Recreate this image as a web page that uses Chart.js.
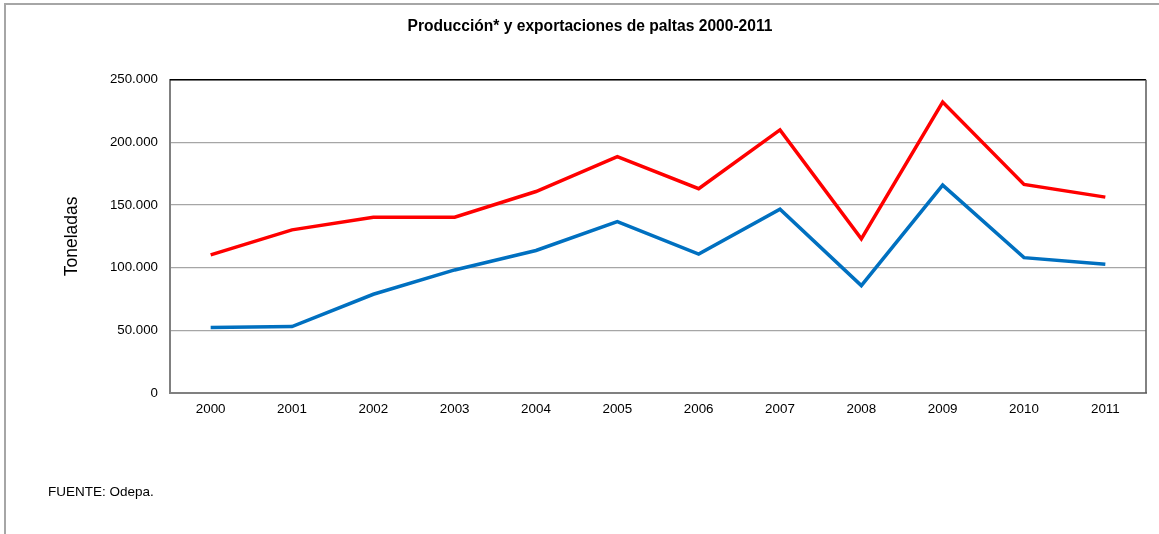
<!DOCTYPE html>
<html>
<head>
<meta charset="utf-8">
<script src="https://cdn.jsdelivr.net/npm/chart.js@4/dist/chart.umd.min.js"></script>
<style>
  html, body { margin: 0; padding: 0; background: #fff; }
  #wrap { position: relative; width: 1159px; height: 534px; }
  canvas { display: block; }
</style>
</head>
<body>
<div id="wrap"><canvas id="c" width="1159" height="534"></canvas></div>
<script>
const years = ['2000','2001','2002','2003','2004','2005','2006','2007','2008','2009','2010','2011'];
const produccion = [110200, 130200, 140300, 140300, 160800, 188700, 163000, 210000, 123000, 232200, 166400, 156300];
const exportaciones = [52200, 53000, 78800, 98200, 113700, 136800, 110800, 146700, 85700, 165900, 108000, 102800];
const yTicks = [0, 50000, 100000, 150000, 200000, 250000];
const titleText = 'Producción* y exportaciones de paltas 2000-2011';
const yTitle = 'Toneladas';
const footnote = 'FUENTE: Odepa.';

const FONT = '"Liberation Sans", Arial, sans-serif';

function fmt(v) {
  return v === 0 ? '0' : v.toLocaleString('de-DE', {minimumFractionDigits: 0});
}

const decor = {
  id: 'decor',
  beforeDraw(chart) {
    const ctx = chart.ctx;
    ctx.save();
    ctx.strokeStyle = '#a6a6a6';
    ctx.lineWidth = 2;
    ctx.beginPath();
    ctx.moveTo(5, 534);
    ctx.lineTo(5, 4);
    ctx.lineTo(1159, 4);
    ctx.stroke();
    ctx.restore();
  },
  afterDraw(chart) {
    const ctx = chart.ctx;
    const a = chart.chartArea;
    ctx.save();
    ctx.strokeStyle = '#000';
    ctx.lineWidth = 1.5;
    ctx.beginPath();
    ctx.moveTo(a.left, a.top);
    ctx.lineTo(a.right, a.top);
    ctx.stroke();
    ctx.strokeStyle = '#595959';
    ctx.lineWidth = 1.5;
    ctx.beginPath();
    ctx.moveTo(a.right, a.top);
    ctx.lineTo(a.right, a.bottom);
    ctx.stroke();
    ctx.fillStyle = '#000';
    ctx.font = '13.5px ' + FONT;
    ctx.textBaseline = 'middle';
    ctx.textAlign = 'left';
    ctx.fillText(footnote, 48, 492);
    ctx.restore();
  }
};

new Chart(document.getElementById('c'), {
  type: 'line',
  data: {
    labels: years,
    datasets: [
      { label: 'Producción', data: produccion, borderColor: '#ff0000', backgroundColor: '#ff0000', borderWidth: 3.5, pointRadius: 0, tension: 0, borderCapStyle: 'butt' },
      { label: 'Exportaciones', data: exportaciones, borderColor: '#0070c0', backgroundColor: '#0070c0', borderWidth: 3.5, pointRadius: 0, tension: 0, borderCapStyle: 'butt' }
    ]
  },
  options: {
    responsive: false,
    animation: false,
    events: [],
    layout: { padding: { left: 34, right: 13, top: 0, bottom: 0 } },
    plugins: {
      legend: { display: false },
      tooltip: { enabled: false },
      title: {
        display: true,
        text: titleText,
        color: '#000',
        font: { family: FONT, size: 15.6, weight: 'bold', lineHeight: 1.2 },
        padding: { top: 17, bottom: 44 }
      }
    },
    scales: {
      x: {
        offset: true,
        grid: { display: false, drawTicks: false },
        border: { display: true, color: '#808080', width: 2 },
        ticks: { color: '#000', font: { family: FONT, size: 13.4 }, padding: 8, maxRotation: 0, autoSkip: false },
        afterFit(s) { s.height = 141; }
      },
      y: {
        min: 0,
        max: 250000,
        afterBuildTicks(s) { s.ticks = yTicks.map(v => ({ value: v })); },
        grid: { color: '#a6a6a6', lineWidth: 1.3, drawTicks: false },
        border: { display: true, color: '#808080', width: 2 },
        ticks: { color: '#000', font: { family: FONT, size: 13.3 }, padding: 12, callback: v => fmt(v) },
        title: { display: true, text: yTitle, color: '#000', font: { family: FONT, size: 17.5, lineHeight: 1.2 }, padding: { top: 28, bottom: 0 } },
        afterFit(s) { s.width = 136; }
      }
    }
  },
  plugins: [decor]
});
</script>
</body>
</html>
